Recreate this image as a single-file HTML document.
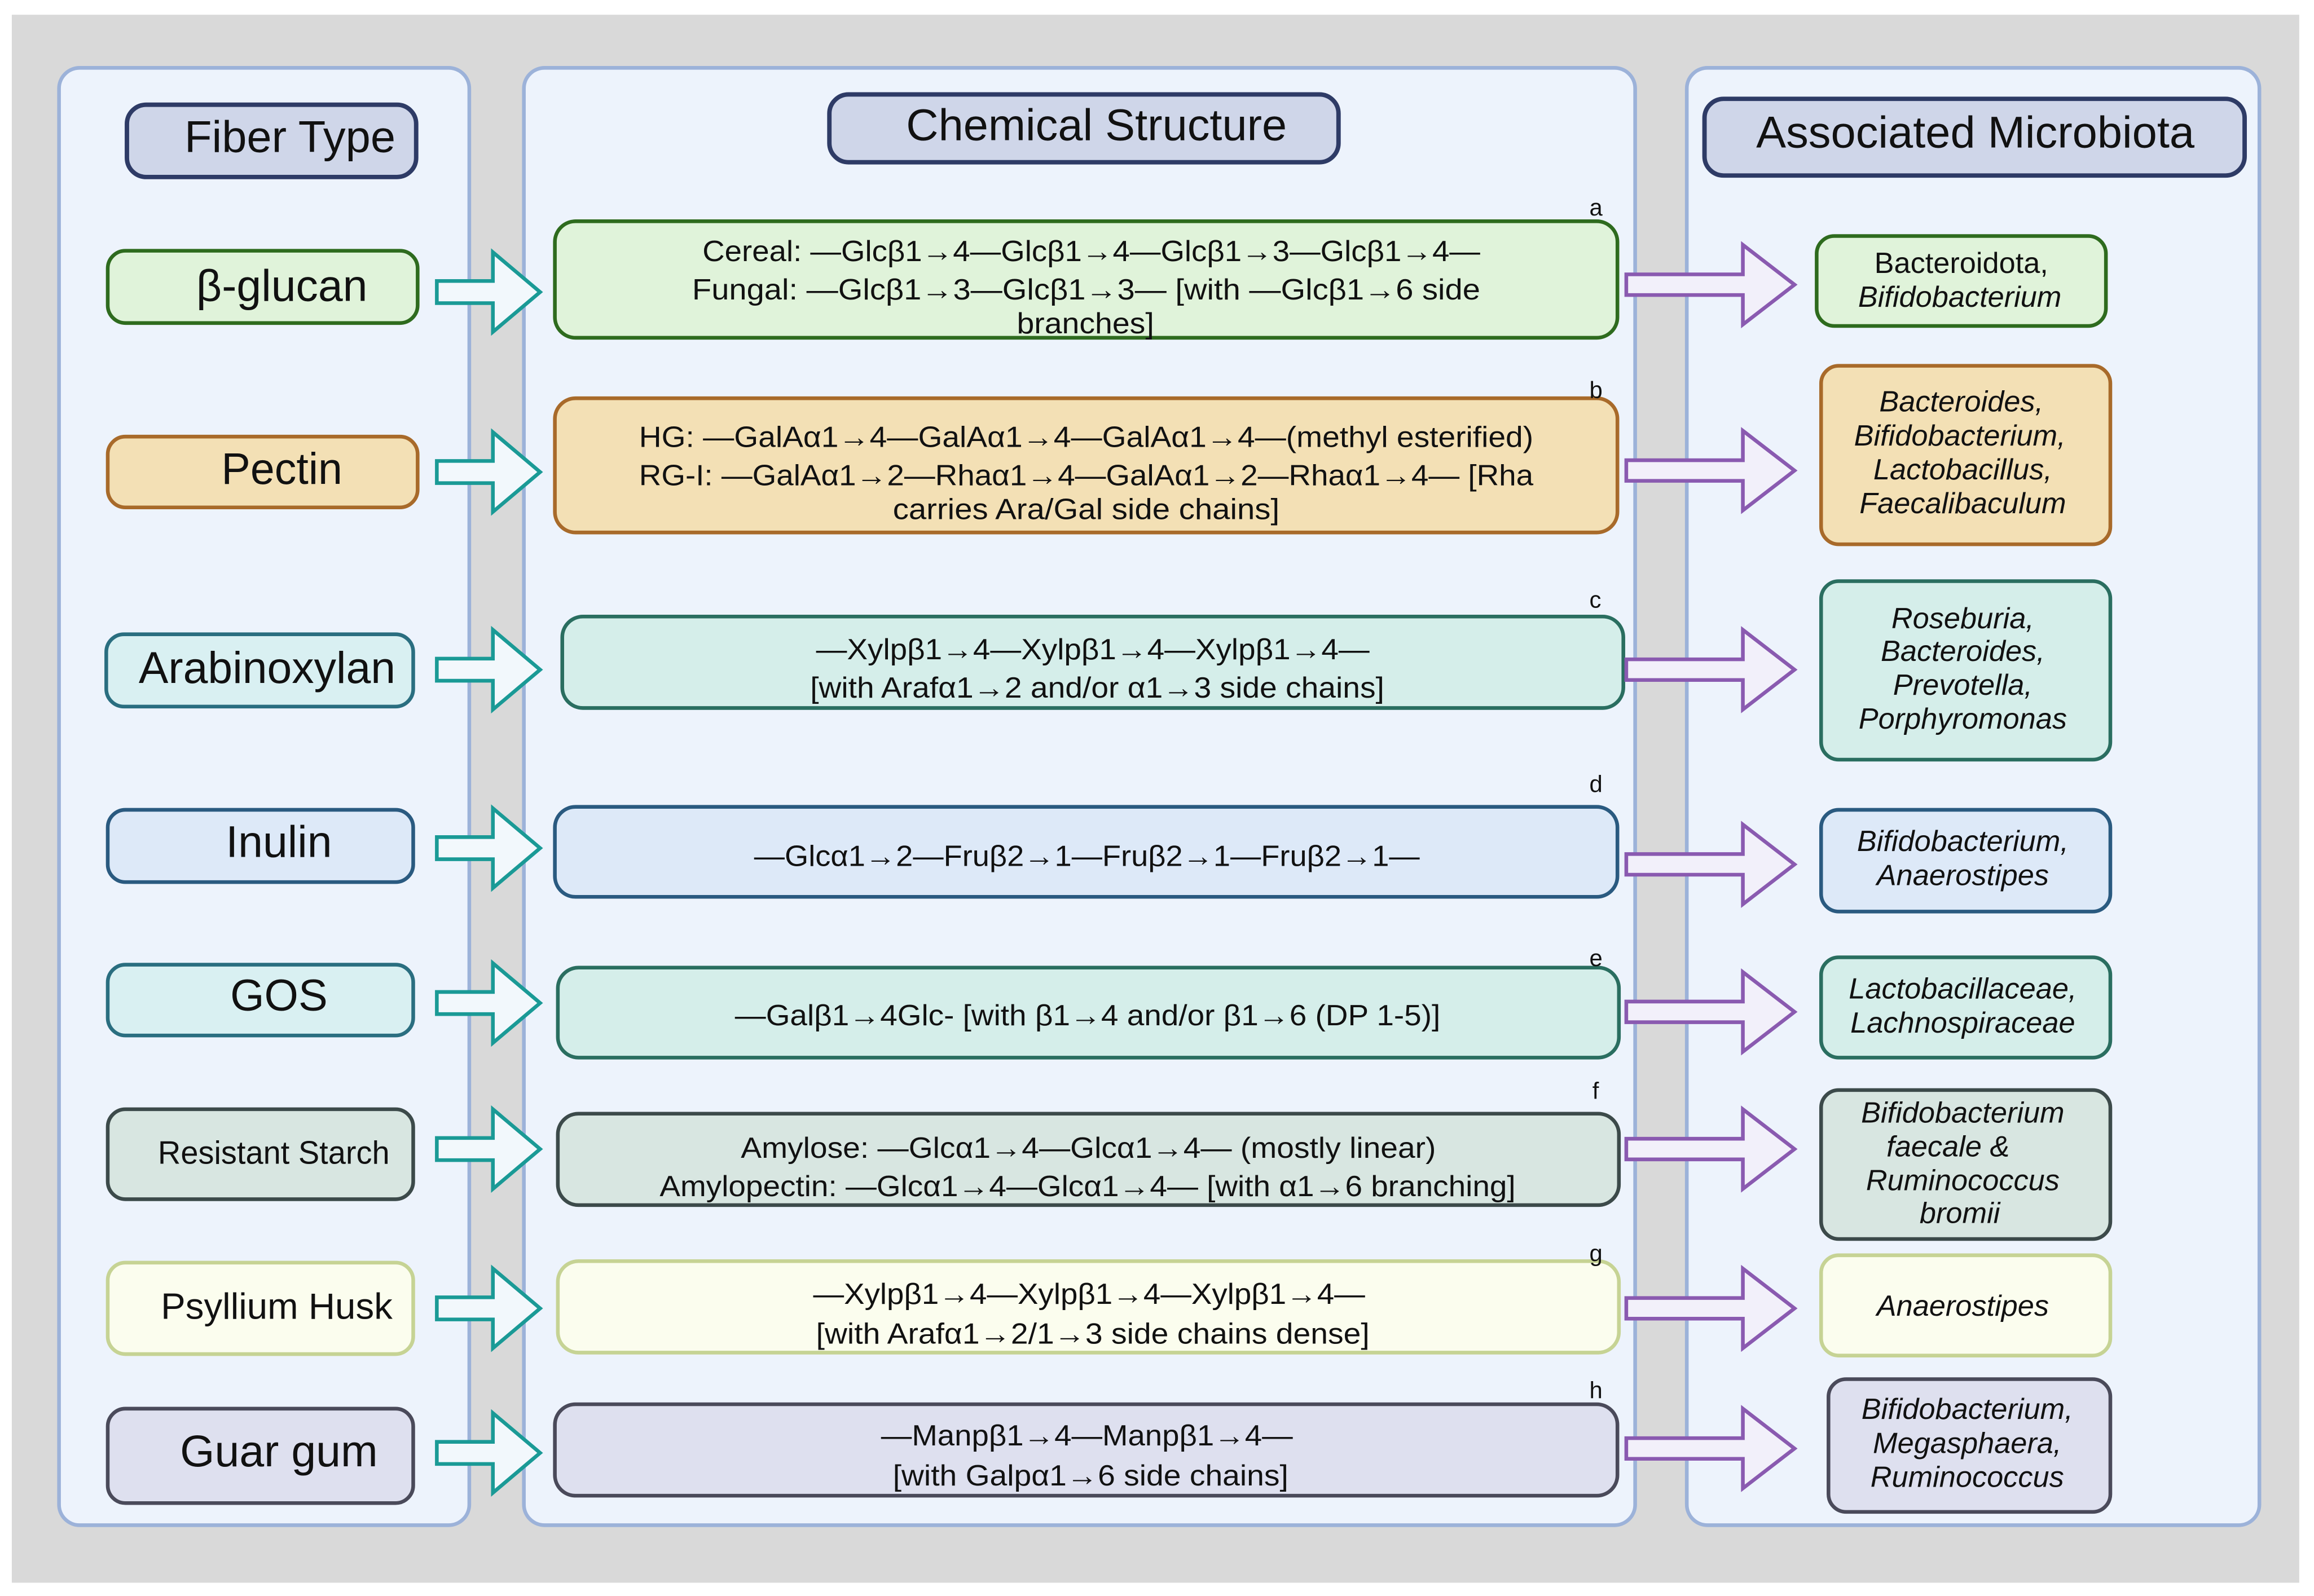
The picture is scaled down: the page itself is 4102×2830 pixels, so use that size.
<!DOCTYPE html>
<html><head><meta charset="utf-8"><style>html,body{margin:0;padding:0;background:#fff}svg{display:block}text{font-family:"Liberation Sans",Arial,sans-serif;fill:#111}</style></head>
<body>
<svg width="4102" height="2830" viewBox="0 0 1568 1082" preserveAspectRatio="none" xmlns="http://www.w3.org/2000/svg">
<rect x="0" y="0" width="1568" height="1082" fill="#fff"/>
<rect x="8" y="10" width="1550" height="1063" fill="#d9d9d9"/>
<g fill="#edf3fc" stroke="#9cb2d9" stroke-width="2.5">
<rect x="40" y="46" width="278" height="988" rx="14"/>
<rect x="355" y="46" width="753" height="988" rx="14"/>
<rect x="1143" y="46" width="388" height="988" rx="14"/>
</g>
<g fill="#cfd6e9" stroke="#2e3b66" stroke-width="3">
<rect x="86" y="71" width="196" height="49" rx="13"/>
<rect x="562" y="64" width="345" height="46" rx="13"/>
<rect x="1155" y="67" width="366" height="52" rx="13"/>
</g>
<g font-size="30">
<text x="125" y="103" textLength="143" lengthAdjust="spacingAndGlyphs">Fiber Type</text>
<text x="614" y="95" textLength="258" lengthAdjust="spacingAndGlyphs">Chemical Structure</text>
<text x="1190" y="100" textLength="297" lengthAdjust="spacingAndGlyphs">Associated Microbiota</text>
</g>

<!-- left boxes -->
<g stroke-width="2.5">
<rect x="73" y="170" width="210" height="49" rx="12" fill="#e0f3da" stroke="#2e6b1e"/>
<rect x="73" y="296" width="210" height="48" rx="12" fill="#f3e0b5" stroke="#a86a2a"/>
<rect x="72" y="430" width="208" height="49" rx="12" fill="#d9f0f2" stroke="#2a6e80"/>
<rect x="73" y="549" width="207" height="49" rx="12" fill="#dde9f8" stroke="#2a5a80"/>
<rect x="73" y="654" width="207" height="48" rx="12" fill="#d9f0f2" stroke="#2a6e80"/>
<rect x="73" y="752" width="207" height="61" rx="12" fill="#d8e6e1" stroke="#3c4a4a"/>
<rect x="73" y="856" width="207" height="62" rx="12" fill="#fbfdee" stroke="#c6d394"/>
<rect x="73" y="955" width="207" height="64" rx="12" fill="#dee0ef" stroke="#4a4a5a"/>
</g>
<g font-size="30">
<text x="133" y="204" textLength="116" lengthAdjust="spacingAndGlyphs">β-glucan</text>
<text x="150" y="328" textLength="82" lengthAdjust="spacingAndGlyphs">Pectin</text>
<text x="94" y="463" textLength="174" lengthAdjust="spacingAndGlyphs">Arabinoxylan</text>
<text x="153" y="581" textLength="72" lengthAdjust="spacingAndGlyphs">Inulin</text>
<text x="156" y="685" textLength="66" lengthAdjust="spacingAndGlyphs">GOS</text>
<text x="122" y="994" textLength="134" lengthAdjust="spacingAndGlyphs">Guar gum</text>
</g>
<text x="107" y="789" font-size="22" textLength="157" lengthAdjust="spacingAndGlyphs">Resistant Starch</text>
<text x="109" y="894" font-size="25" textLength="157" lengthAdjust="spacingAndGlyphs">Psyllium Husk</text>

<!-- teal arrows -->
<defs>
<path id="ta" d="M0,-7.5 L38,-7.5 L38,-27 L70,0 L38,27 L38,7.5 L0,7.5 Z" fill="#f2f8fc" stroke="#1a9a96" stroke-width="2.5"/>
<path id="pa" d="M0,-7 L79,-7 L79,-27 L114,0 L79,27 L79,7 L0,7 Z" fill="#f2f0fa" stroke="#8a5ab0" stroke-width="2.5"/>
</defs>
<use href="#ta" x="296" y="198"/>
<use href="#ta" x="296" y="320"/>
<use href="#ta" x="296" y="454"/>
<use href="#ta" x="296" y="575"/>
<use href="#ta" x="296" y="680"/>
<use href="#ta" x="296" y="779"/>
<use href="#ta" x="296" y="887"/>
<use href="#ta" x="296" y="985"/>

<!-- middle boxes -->
<g stroke-width="2.5">
<rect x="376" y="150" width="720" height="79" rx="14" fill="#e0f3da" stroke="#2e6b1e"/>
<rect x="376" y="270" width="720" height="91" rx="14" fill="#f3e0b5" stroke="#a86a2a"/>
<rect x="381" y="418" width="719" height="62" rx="14" fill="#d5eeea" stroke="#2a6e60"/>
<rect x="376" y="547" width="720" height="61" rx="14" fill="#dde9f8" stroke="#2a5a80"/>
<rect x="378" y="656" width="719" height="61" rx="14" fill="#d5eeea" stroke="#2a6e60"/>
<rect x="378" y="755" width="719" height="62" rx="14" fill="#d8e6e1" stroke="#3c4a4a"/>
<rect x="378" y="855" width="719" height="62" rx="14" fill="#fbfdee" stroke="#c6d394"/>
<rect x="376" y="952" width="720" height="62" rx="14" fill="#dee0ef" stroke="#4a4a5a"/>
</g>
<g font-size="16">
<text x="1077" y="146">a</text><text x="1077" y="270">b</text><text x="1077" y="412">c</text><text x="1077" y="537">d</text>
<text x="1077" y="655">e</text><text x="1079" y="745">f</text><text x="1077" y="855">g</text><text x="1077" y="948">h</text>
</g>
<g font-size="20" lengthAdjust="spacingAndGlyphs">
<text x="476" y="177" textLength="527" lengthAdjust="spacingAndGlyphs">Cereal: —Glcβ1→4—Glcβ1→4—Glcβ1→3—Glcβ1→4—</text>
<text x="469" y="203" textLength="534" lengthAdjust="spacingAndGlyphs">Fungal: —Glcβ1→3—Glcβ1→3—  [with  —Glcβ1→6 side</text>
<text x="689" y="226" textLength="93" lengthAdjust="spacingAndGlyphs">branches]</text>
<text x="433" y="303" textLength="606" lengthAdjust="spacingAndGlyphs">HG: —GalAα1→4—GalAα1→4—GalAα1→4—(methyl esterified)</text>
<text x="433" y="329" textLength="606" lengthAdjust="spacingAndGlyphs">RG-I: —GalAα1→2—Rhaα1→4—GalAα1→2—Rhaα1→4— [Rha</text>
<text x="605" y="352" textLength="262" lengthAdjust="spacingAndGlyphs">carries Ara/Gal side chains]</text>
<text x="553" y="447" textLength="375" lengthAdjust="spacingAndGlyphs">—Xylpβ1→4—Xylpβ1→4—Xylpβ1→4—</text>
<text x="549" y="473" textLength="389" lengthAdjust="spacingAndGlyphs">[with Arafα1→2 and/or α1→3 side chains]</text>
<text x="511" y="587" textLength="451" lengthAdjust="spacingAndGlyphs">—Glcα1→2—Fruβ2→1—Fruβ2→1—Fruβ2→1—</text>
<text x="498" y="695" textLength="478" lengthAdjust="spacingAndGlyphs">—Galβ1→4Glc- [with β1→4 and/or β1→6 (DP 1-5)]</text>
<text x="502" y="785" textLength="471" lengthAdjust="spacingAndGlyphs">Amylose: —Glcα1→4—Glcα1→4— (mostly linear)</text>
<text x="447" y="811" textLength="580" lengthAdjust="spacingAndGlyphs">Amylopectin: —Glcα1→4—Glcα1→4— [with α1→6 branching]</text>
<text x="551" y="884" textLength="374" lengthAdjust="spacingAndGlyphs">—Xylpβ1→4—Xylpβ1→4—Xylpβ1→4—</text>
<text x="553" y="911" textLength="375" lengthAdjust="spacingAndGlyphs">[with Arafα1→2/1→3 side chains dense]</text>
<text x="597" y="980" textLength="279" lengthAdjust="spacingAndGlyphs">—Manpβ1→4—Manpβ1→4—</text>
<text x="605" y="1007" textLength="268" lengthAdjust="spacingAndGlyphs">[with Galpα1→6 side chains]</text>
</g>

<!-- purple arrows -->
<use href="#pa" x="1102" y="193"/>
<use href="#pa" x="1102" y="319"/>
<use href="#pa" x="1102" y="454"/>
<use href="#pa" x="1102" y="586"/>
<use href="#pa" x="1102" y="686"/>
<use href="#pa" x="1102" y="779"/>
<use href="#pa" x="1102" y="887"/>
<use href="#pa" x="1102" y="982"/>

<!-- right boxes -->
<g stroke-width="2.5">
<rect x="1231" y="160" width="196" height="61" rx="12" fill="#e0f3da" stroke="#2e6b1e"/>
<rect x="1234" y="248" width="196" height="121" rx="12" fill="#f3e0b5" stroke="#a86a2a"/>
<rect x="1234" y="394" width="196" height="121" rx="12" fill="#d5eeea" stroke="#2a6e60"/>
<rect x="1234" y="549" width="196" height="69" rx="12" fill="#dde9f8" stroke="#2a5a80"/>
<rect x="1234" y="649" width="196" height="68" rx="12" fill="#d5eeea" stroke="#2a6e60"/>
<rect x="1234" y="739" width="196" height="101" rx="12" fill="#d8e6e1" stroke="#3c4a4a"/>
<rect x="1234" y="851" width="196" height="68" rx="12" fill="#fbfdee" stroke="#c6d394"/>
<rect x="1239" y="935" width="191" height="90" rx="12" fill="#dee0ef" stroke="#4a4a5a"/>
</g>
<g font-size="20" text-anchor="middle" font-style="italic">
<text x="1329" y="185" font-style="normal">Bacteroidota,</text>
<text x="1328" y="208">Bifidobacterium</text>
<text x="1329" y="279">Bacteroides,</text>
<text x="1328" y="302">Bifidobacterium,</text>
<text x="1330" y="325">Lactobacillus,</text>
<text x="1330" y="348">Faecalibaculum</text>
<text x="1330" y="426">Roseburia,</text>
<text x="1330" y="448">Bacteroides,</text>
<text x="1330" y="471">Prevotella,</text>
<text x="1330" y="494">Porphyromonas</text>
<text x="1330" y="577">Bifidobacterium,</text>
<text x="1330" y="600">Anaerostipes</text>
<text x="1330" y="677">Lactobacillaceae,</text>
<text x="1330" y="700">Lachnospiraceae</text>
<text x="1330" y="761">Bifidobacterium</text>
<text x="1320" y="784">faecale &amp;</text>
<text x="1330" y="807">Ruminococcus</text>
<text x="1328" y="829">bromii</text>
<text x="1330" y="892">Anaerostipes</text>
<text x="1333" y="962">Bifidobacterium,</text>
<text x="1333" y="985">Megasphaera,</text>
<text x="1333" y="1008">Ruminococcus</text>
</g>
</svg>
</body></html>
